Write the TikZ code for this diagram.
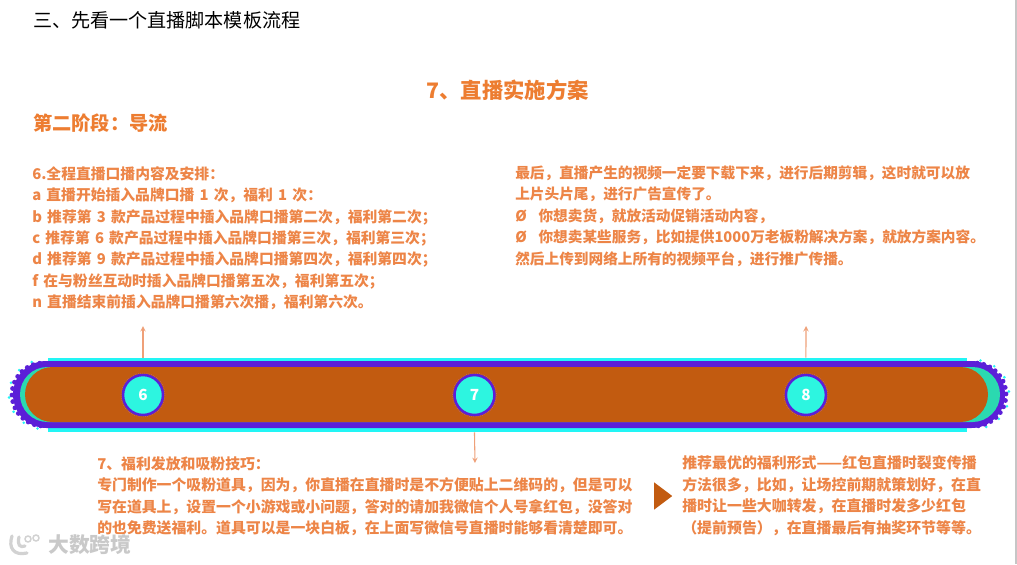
\documentclass[tikz,border=0pt]{standalone}
\usepackage{fontspec}
\setmainfont{Noto Sans CJK SC}
\usetikzlibrary{shapes, shapes.misc, arrows, calc, positioning}
\definecolor{bodyorange}{HTML}{ED8547}
\definecolor{headorange}{HTML}{ED7D31}
\definecolor{barbrown}{HTML}{C25B10}
\definecolor{barpurple}{HTML}{5B1FD8}
\definecolor{barcyan}{HTML}{22F5F5}
\definecolor{barteal}{HTML}{2BD9B0}
\definecolor{dotcyan}{HTML}{2DF5E0}
\definecolor{stemorange}{HTML}{EFA078}

\begin{document}
\begin{tikzpicture}[x=0.75pt, y=-0.75pt, >=stealth, node distance=248.6pt]
	\tikzstyle{textblock} = [anchor=north west, inner sep=0pt, align=left, text=bodyorange, font=\fontsize{11}{16.1}\selectfont\bfseries]
	\tikzstyle{format} = [draw=barpurple, fill=dotcyan, line width=1.9pt, circle, minimum size=30pt, inner sep=0pt, text=white, font=\fontsize{11.5}{12}\selectfont\bfseries]
	\tikzstyle{barlayer} = [rounded rectangle, inner sep=0pt, minimum height=41.25pt]
	\tikzstyle{stem} = [color=stemorange, line width=0.8pt]

	\useasboundingbox (0,0) rectangle (1017,564);
	\fill[white] (0,0) rectangle (1017,564);
	\draw[gray!45, line width=1.1pt] (1016,0) -- (1016,564);

	\node[anchor=west, inner sep=0pt, font=\fontsize{14.3}{16}\selectfont] (title) at (33,20) {三、先看一个直播脚本模板流程};
	\node[inner sep=0pt, text=headorange, font=\fontsize{16}{18}\selectfont\bfseries] (plan) at (507.5,90) {7、直播实施方案};
	\node[anchor=west, inner sep=0pt, text=headorange, font=\fontsize{14.4}{16}\selectfont\bfseries] (stage) at (33,123) {第二阶段：导流};

	\node[textblock, font=\fontsize{11.1}{16.1}\selectfont\bfseries] (sixtext) at (32,166) {6.全程直播口播内容及安排：\\
		a\hspace{3.9pt}直播开始插入品牌口播\hspace{3.9pt}1\hspace{3.9pt}次，福利\hspace{3.9pt}1\hspace{3.9pt}次：\\
		b\hspace{3.9pt}推荐第\hspace{3.9pt}3\hspace{3.9pt}款产品过程中插入品牌口播第二次，福利第二次；\\
		c\hspace{3.9pt}推荐第\hspace{3.9pt}6\hspace{3.9pt}款产品过程中插入品牌口播第三次，福利第三次；\\
		d\hspace{3.9pt}推荐第\hspace{3.9pt}9\hspace{3.9pt}款产品过程中插入品牌口播第四次，福利第四次；\\
		f\hspace{3.9pt}在与粉丝互动时插入品牌口播第五次，福利第五次；\\
		n\hspace{3.9pt}直播结束前插入品牌口播第六次播，福利第六次。};

	\node[textblock] (eighttext) at (515,165.5) {最后，直播产生的视频一定要下载下来，进行后期剪辑，这时就可以放\\
		上片头片尾，进行广告宣传了。\\
		Ø\hspace{0.8em}你想卖货，就放活动促销活动内容，\\
		Ø\hspace{0.8em}你想卖某些服务，比如提供1000万老板粉解决方案，就放方案内容。\\
		然后上传到网络上所有的视频平台，进行推广传播。};

	\node[textblock, font=\fontsize{11.15}{16.1}\selectfont\bfseries] (seventext) at (97,456) {7、福利发放和吸粉技巧：\\
		专门制作一个吸粉道具，因为，你直播在直播时是不方便贴上二维码的，但是可以\\
		写在道具上，设置一个小游戏或小问题，答对的请加我微信个人号拿红包，没答对\\
		的也免费送福利。道具可以是一块白板，在上面写微信号直播时能够看清楚即可。};

	\node[textblock, font=\fontsize{11.2}{16.1}\selectfont\bfseries] (tiptext) at (682,455.5) {推荐最优的福利形式——红包直播时裂变传播\\
		方法很多，比如，让场控前期就策划好，在直\\
		播时让一些大咖转发，在直播时发多少红包\\
		（提前预告），在直播最后有抽奖环节等等。};

	\node[fill=barcyan, inner sep=0pt, minimum width=689pt, minimum height=55.5pt] (bar) at (507.5,395) {};
	\foreach \a in {100,125,...,260} \fill[barcyan] ($(43.5,394.5)+(\a:34.5)$) circle (1.4);
	\foreach \a in {-80,-55,...,80} \fill[barcyan] ($(974.5,394.5)+(\a:34.5)$) circle (1.4);
	\foreach \a in {95,107,...,265} \fill[barpurple] ($(43.5,394.5)+(\a:31.5)$) circle (2.4);
	\foreach \a in {-85,-73,...,85} \fill[barpurple] ($(974.5,394.5)+(\a:31.5)$) circle (2.4);
	\node[barlayer, fill=barpurple, minimum width=744pt, minimum height=50.25pt] (barrim) at (509,394.5) {};
	\node[barlayer, fill=barteal, minimum width=735pt] (barglow) at (510,394.5) {};
	\node[barlayer, fill=barbrown, minimum width=722.25pt] (barcore) at (506.5,394.5) {};

	\node[format] (six) at (143,395) {6};
	\node[format, right of=six] (seven) {7};
	\node[format, right of=seven] (eight) {8};
	\foreach \n in {six,seven,eight} \draw[magenta!45!gray, line width=0.4pt, densely dotted] (\n) circle (22);

	\coordinate (sixtip) at (143,326);
	\coordinate (seventip) at (475,463);
	\coordinate (eighttip) at (806,326);
	\path[->, stem]
		(six |- bar.north) edge (sixtip)
		(seven |- bar.south) edge (seventip)
		(eight |- bar.north) edge (eighttip)
	;

	\node[fill=barbrown, isosceles triangle, isosceles triangle apex angle=74, inner sep=0pt, minimum height=13.5pt, minimum width=18pt] (pointer) at (661,496) {};

	\node[anchor=west, inner sep=0pt, text=gray!42, font=\fontsize{15.6}{18}\selectfont\bfseries] (mark) at (48,545) {大数跨境};
	\draw[gray!35, line width=2.4pt, line cap=round] (12,536) .. controls (8,548) and (14,556) .. (27,553);
	\draw[gray!35, line width=2.4pt, line cap=round] (19,537) .. controls (17,545) and (20,548) .. (25,546);
	\draw[gray!35, line width=1.1pt] (28,539) circle (3) (36,538) circle (3);
\end{tikzpicture}
\end{document}
